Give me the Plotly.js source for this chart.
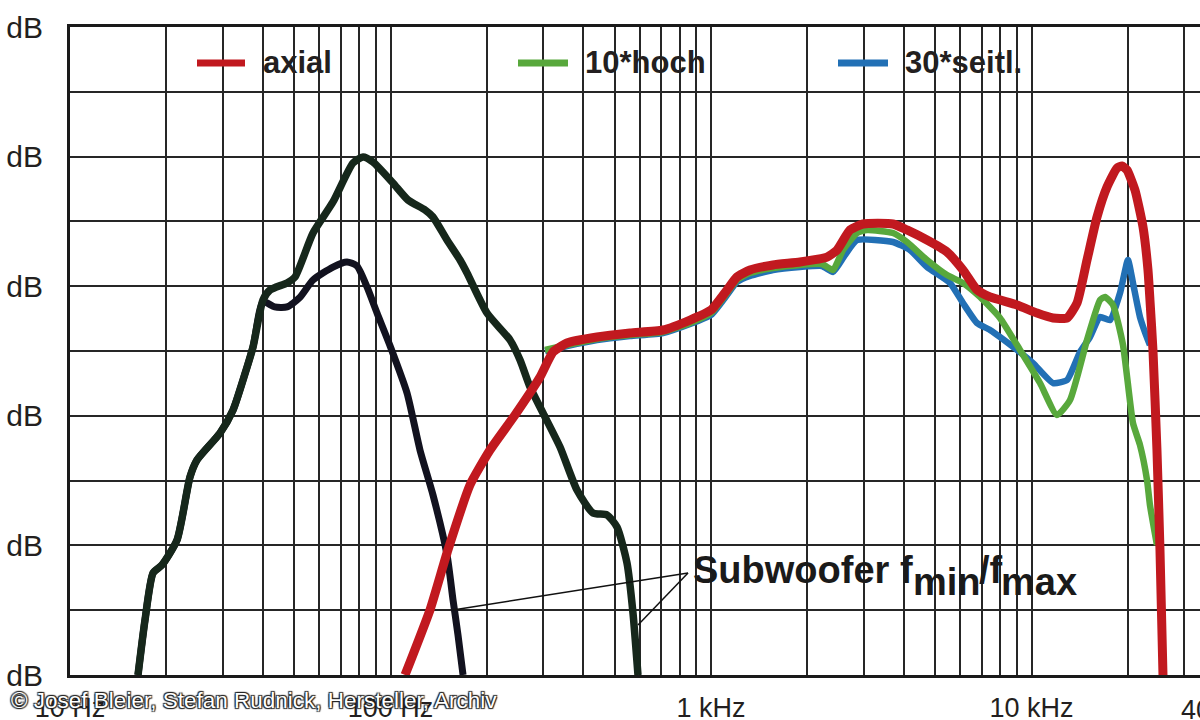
<!DOCTYPE html>
<html>
<head>
<meta charset="utf-8">
<script src="https://cdn.plot.ly/plotly-3.0.1.min.js"></script>
<style>
  html, body { margin: 0; padding: 0; background: #ffffff; }
  #chart { width: 1200px; height: 720px; }
</style>
</head>
<body>
<div id="chart"></div>
<script>
// ---- Data (frequency in Hz, level in dB relative to chart bottom) ----
const subMaxFreq = [16.30, 17.14, 18.16, 19.37, 21.58, 23.68, 24.90, 29.38, 32.27, 34.66, 37.24, 40.0, 42.07, 47.55, 50.36, 57.31, 66.15, 76.38, 82.08, 88.18, 101.8, 113.4, 128.2, 135.7, 150.1, 164.8, 173.3, 200.0, 236.0, 253.6, 272.5, 299.1, 338.0, 381.8, 428.3, 473.7, 508.9, 546.9, 571.0, 591.8];
const subMaxDb   = [0, 4.24, 7.87, 8.49, 10.42, 15.28, 16.59, 18.67, 20.45, 22.76, 25.31, 28.94, 29.71, 30.25, 30.71, 34.10, 36.50, 39.51, 39.97, 39.58, 37.96, 36.65, 35.88, 35.34, 33.56, 32.02, 31.02, 27.93, 25.85, 24.31, 22.22, 20.22, 17.59, 14.27, 12.50, 12.35, 11.42, 8.64, 4.78, 0];

const subMinFreq = [16.30, 17.14, 18.16, 19.37, 21.58, 23.68, 24.90, 29.38, 32.27, 34.66, 37.24, 40.0, 43.5, 47.55, 52.0, 57.31, 66.15, 73.15, 78.60, 84.48, 90.77, 100.0, 112.6, 123.6, 135.7, 150.1, 156.7, 162.4, 168.4];
const subMinDb   = [0, 4.24, 7.87, 8.49, 10.42, 15.28, 16.59, 18.67, 20.45, 22.76, 25.31, 28.80, 28.40, 28.40, 29.10, 30.48, 31.48, 31.87, 31.56, 29.94, 27.93, 25.31, 21.76, 17.36, 13.89, 9.26, 5.79, 3.09, 0];

const axialFreq = [111.0, 132.8, 151.1, 177.0, 204.4, 244.6, 292.8, 321.4, 355.4, 440.9, 558.9, 708.3, 860.2, 1000, 1122, 1205, 1323, 1561, 1895, 2301, 2473, 2715, 2981, 3698, 4088, 4721, 5450, 6113, 6761, 7422, 9012, 10400, 11670, 12910, 13870, 14900, 16010, 17200, 18490, 19160, 19860, 21030, 22280, 23090, 23420, 23930, 24630, 25170, 25720];
const axialDb   = [0, 5.02, 9.65, 14.66, 17.36, 20.06, 22.99, 24.92, 25.62, 26.08, 26.39, 26.62, 27.39, 28.16, 29.71, 30.71, 31.25, 31.64, 31.87, 32.25, 32.79, 34.34, 34.80, 34.80, 34.34, 33.56, 32.64, 31.25, 29.71, 29.17, 28.55, 27.93, 27.55, 27.55, 28.70, 32.02, 35.34, 37.65, 39.12, 39.27, 38.97, 37.42, 34.57, 31.25, 28.94, 25.08, 17.36, 9.65, 0];

const hochFreq = [303.5, 355.4, 440.9, 558.9, 708.3, 860.2, 1000, 1122, 1205, 1323, 1561, 1895, 2220, 2403, 2582, 2855, 3067, 3698, 4088, 4721, 5450, 6113, 6908, 7973, 9207, 10630, 12010, 13190, 14900, 16360, 16960, 17960, 19300, 20730, 21800, 22930, 23420, 24630];
const hochDb   = [25.08, 25.46, 25.93, 26.23, 26.47, 27.16, 27.93, 29.48, 30.48, 31.02, 31.40, 31.64, 31.71, 31.25, 32.79, 34.10, 34.34, 34.10, 33.41, 32.02, 30.86, 30.25, 29.17, 27.55, 25.08, 22.53, 20.06, 21.22, 25.85, 28.94, 29.17, 28.55, 25.46, 19.44, 17.75, 15.05, 13.12, 10.03];

const seitlFreq = [303.5, 355.4, 440.9, 558.9, 708.3, 860.2, 1000, 1122, 1205, 1323, 1561, 1895, 2220, 2403, 2619, 2855, 3698, 4177, 4721, 5568, 6113, 6761, 7422, 9012, 10110, 11670, 12910, 14170, 15220, 16360, 17580, 18890, 20000, 20730, 21800, 22770, 23420];
const seitlDb   = [25.00, 25.39, 25.85, 26.16, 26.39, 27.08, 27.78, 29.32, 30.32, 30.79, 31.25, 31.48, 31.56, 31.10, 32.41, 33.56, 33.41, 32.79, 31.48, 30.25, 28.70, 27.16, 26.62, 25.08, 24.07, 22.53, 22.76, 24.92, 26.08, 27.62, 27.39, 29.48, 32.02, 30.25, 27.62, 26.23, 25.46];

const seriesNames = ['axial', '10*hoch', '30*seitl.'];
const seriesColors = ['#c1191f', '#58a83c', '#2270b5'];

const xTickVals = [10,20,30,40,50,60,70,80,90,100,200,300,400,500,600,700,800,900,1000,2000,3000,4000,5000,6000,7000,8000,9000,10000,20000,30000];
const xTickText = ['10 Hz','','','','','','','','','100 Hz','','','','','','','','','1 kHz','','','','','','','','','10 kHz','',''];
const yTickVals = [0,5,10,15,20,25,30,35,40,45,50];
const yTickText = ['dB','','dB','','dB','','dB','','dB','','dB'];

// ---- Plot ----
const L = 70, R = 1200, T = 27, B = 675;
const px = v => (v - L) / (R - L);
const py = v => (B - v) / (B - T);

const traces = [
  {x: subMinFreq, y: subMinDb, mode: 'lines', name: 'Subwoofer fmin', line: {color: '#12121f', width: 7, shape: 'spline', smoothing: 0.6}},
  {x: subMaxFreq, y: subMaxDb, mode: 'lines', name: 'Subwoofer fmax', line: {color: '#16271b', width: 7.5, shape: 'spline', smoothing: 0.6}},
  {x: seitlFreq, y: seitlDb, mode: 'lines', name: seriesNames[2], line: {color: seriesColors[2], width: 6.5, shape: 'spline', smoothing: 0.5}},
  {x: hochFreq, y: hochDb, mode: 'lines', name: seriesNames[1], line: {color: seriesColors[1], width: 6.5, shape: 'spline', smoothing: 0.5}},
  {x: axialFreq, y: axialDb, mode: 'lines', name: seriesNames[0], line: {color: seriesColors[0], width: 9, shape: 'spline', smoothing: 0.5}}
];

const legendSamples = [[197, 245], [518, 568], [838, 888]];
const legendTextX = [263, 585, 905];
const legendBoxes = [[190, 337], [510, 716], [835, 1040]];

const shapes = [];
legendBoxes.forEach(b => shapes.push({type: 'rect', xref: 'paper', yref: 'paper', x0: px(b[0]), x1: px(b[1]), y0: py(88), y1: py(38), fillcolor: '#ffffff', line: {width: 0}, layer: 'between'}));
legendSamples.forEach((s, i) => shapes.push({type: 'line', xref: 'paper', yref: 'paper', x0: px(s[0]), x1: px(s[1]), y0: py(63), y1: py(63), line: {color: seriesColors[i], width: 7}}));
// pointer lines of the Subwoofer label
shapes.push({type: 'line', xref: 'paper', yref: 'paper', x0: px(688), y0: py(573), x1: px(453), y1: py(610), line: {color: '#111', width: 1.5}});
shapes.push({type: 'line', xref: 'paper', yref: 'paper', x0: px(688), y0: py(573), x1: px(638), y1: py(625), line: {color: '#111', width: 1.5}});

const legFont = {family: 'Liberation Sans, Arial, sans-serif', size: 31, color: '#231f20', weight: 700};
const subFont = {family: 'Liberation Sans, Arial, sans-serif', size: 38, color: '#1a1a1a', weight: 700};

const annotations = [];
seriesNames.forEach((n, i) => annotations.push({xref: 'paper', yref: 'paper', x: px(legendTextX[i]), y: py(62), xanchor: 'left', yanchor: 'middle', text: n, showarrow: false, font: legFont, borderpad: 0, borderwidth: 0}));
annotations.push({xref: 'paper', yref: 'paper', x: px(693), y: py(570), xanchor: 'left', yanchor: 'middle', text: 'Subwoofer f', showarrow: false, font: subFont, borderpad: 0, borderwidth: 0});
annotations.push({xref: 'paper', yref: 'paper', x: px(913), y: py(582), xanchor: 'left', yanchor: 'middle', text: 'min', showarrow: false, font: subFont, borderpad: 0, borderwidth: 0});
annotations.push({xref: 'paper', yref: 'paper', x: px(979), y: py(570), xanchor: 'left', yanchor: 'middle', text: '/f', showarrow: false, font: subFont, borderpad: 0, borderwidth: 0});
annotations.push({xref: 'paper', yref: 'paper', x: px(1001), y: py(582), xanchor: 'left', yanchor: 'middle', text: 'max', showarrow: false, font: subFont, borderpad: 0, borderwidth: 0});
annotations.push({xref: 'paper', yref: 'paper', x: px(1223), y: py(710), xanchor: 'center', yanchor: 'middle', text: '40 kHz', showarrow: false, font: {family: 'Liberation Sans, Arial, sans-serif', size: 27, color: '#231f20'}});
annotations.push({xref: 'paper', yref: 'paper', x: px(11), y: py(700), xanchor: 'left', yanchor: 'middle', text: '© Josef Bleier, Stefan Rudnick, Hersteller, Archiv', showarrow: false,
  font: {family: 'Liberation Sans, Arial, sans-serif', size: 22.5, color: '#ffffff', shadow: '1px 1px 1px #222, -1px -1px 1px #222, 1px -1px 1px #222, -1px 1px 1px #222'}, borderpad: 0, borderwidth: 0});

const gridColor = '#262626';
const layout = {
  width: 1200, height: 720,
  margin: {l: L, r: 1200 - R, t: T, b: 720 - B, pad: 0},
  paper_bgcolor: '#ffffff', plot_bgcolor: '#ffffff',
  showlegend: false,
  xaxis: {
    type: 'log', range: [1, 1 + (R - L) / 320.5],
    tickmode: 'array', tickvals: xTickVals, ticktext: xTickText,
    showgrid: true, gridcolor: gridColor, gridwidth: 2,
    showline: true, linecolor: '#1a1a1a', linewidth: 3, mirror: true,
    ticks: '', ticklabelstandoff: 7,
    tickfont: {family: 'Liberation Sans, Arial, sans-serif', size: 27, color: '#231f20'},
    zeroline: false, fixedrange: true
  },
  yaxis: {
    range: [0, 50],
    tickmode: 'array', tickvals: yTickVals, ticktext: yTickText,
    showgrid: true, gridcolor: gridColor, gridwidth: 2,
    showline: true, linecolor: '#1a1a1a', linewidth: 3, mirror: false,
    ticks: '', ticklabelstandoff: 18,
    tickfont: {family: 'Liberation Sans, Arial, sans-serif', size: 30, color: '#231f20'},
    zeroline: false, fixedrange: true
  },
  shapes: shapes,
  annotations: annotations
};

Plotly.newPlot('chart', traces, layout, {staticPlot: true, displayModeBar: false});
</script>
</body>
</html>
